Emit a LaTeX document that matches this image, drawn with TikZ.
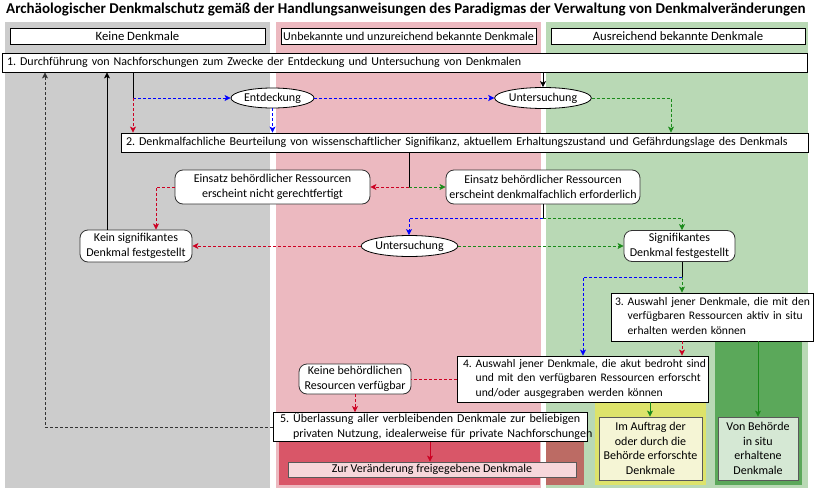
\documentclass[tikz,border=0pt]{standalone}
\usepackage{fontspec}
\setmainfont{Carlito}
\usetikzlibrary{arrows.meta,shapes.geometric,calc}
\definecolor{lgray}{RGB}{204,204,204}
\definecolor{lpink}{RGB}{236,185,192}
\definecolor{lgreen}{RGB}{185,217,181}
\definecolor{dgreen}{RGB}{91,168,90}
\definecolor{yel}{RGB}{221,227,107}
\definecolor{iafill}{RGB}{245,245,213}
\definecolor{vbfill}{RGB}{213,232,212}
\definecolor{dred}{RGB}{217,86,104}
\definecolor{brn}{RGB}{188,107,100}
\definecolor{zvfill}{RGB}{247,215,219}
\definecolor{cblue}{RGB}{0,0,255}
\definecolor{cred}{RGB}{204,0,34}
\definecolor{cgreen}{RGB}{26,138,26}
\newcommand{\fs}{\fontsize{12}{14.5}\selectfont}
\newcommand{\fsn}{\fontsize{11.6}{14.5}\selectfont}
\newcommand{\fsh}{\fontsize{12.7}{14.5}\selectfont}
\frenchspacing
\tikzset{
  hdr/.style={draw=black, fill=white, line width=0.8pt, inner sep=0pt, font=\fs},
  box/.style={draw=black, fill=white, line width=0.8pt, inner ysep=0pt, font=\fs},
  rbox/.style={draw=black!80, fill=white, rounded corners=8pt, line width=0.8pt, align=center, inner sep=0pt, font=\fs},
  ell/.style={ellipse, draw=black, fill=white, line width=0.8pt, inner sep=0pt, font=\fs},
  res/.style={draw=black!65, line width=0.8pt, align=center, inner sep=0pt, font=\fs},
  conn/.style={line width=0.8pt},
  dsh/.style={dash pattern=on 3pt off 2pt},
  arr/.style={-{Stealth[length=6pt,width=6pt,inset=1.5pt]}},
}
\begin{document}
\begin{tikzpicture}[x=1pt,y=-1pt]
\useasboundingbox (0,0) rectangle (814,490);
\fill[white] (0,0) rectangle (814,490);
% lanes
\fill[lgray] (5,22) rectangle (270,488);
\fill[lpink] (276,22) rectangle (541,488);
\fill[lgreen] (546,22) rectangle (808,488);
\fill[dgreen] (715,338) rectangle (802,485);
\fill[yel] (595,400) rectangle (706,485);
\fill[dred] (279,430) rectangle (540,485);
\fill[brn] (546,430) rectangle (584,485);
% title
\node[anchor=west, inner sep=0pt, font=\fontsize{15}{17}\selectfont\bfseries] (title) at (6,10)
  {Archäologischer Denkmalschutz gemäß der Handlungsanweisungen des Paradigmas der Verwaltung von Denkmalveränderungen};
% headers
\node[hdr, font=\fsh, minimum width=255, minimum height=16] (h1) at (137.5,36) {Keine Denkmale};
\node[hdr, minimum width=255, minimum height=16] (h2) at (408.5,36) {Unbekannte und unzureichend bekannte Denkmale};
\node[hdr, font=\fsh, minimum width=254, minimum height=16] (h3) at (678,36) {Ausreichend bekannte Denkmale};
% main boxes
\node[box, inner xsep=5pt, text width=795, align=left, minimum height=19] (b1) at (404.5,62.5)
  {1. Durchführung von Nachforschungen zum Zwecke der Entdeckung und Untersuchung von Denkmalen};
\node[box, inner xsep=5pt, text width=677, align=left, minimum height=19] (b2) at (464.5,142.5)
  {2. Denkmalfachliche Beurteilung von wissenschaftlicher Signifikanz, aktuellem Erhaltungszustand und Gefährdungslage des Denkmals};
\node[ell, minimum width=83, minimum height=20] (e1) at (272.5,98) {Entdeckung};
\node[ell, minimum width=82, minimum height=21] (e2) at (543,98) {Untersuchung};
\node[rbox, minimum width=195, minimum height=34] (r1) at (272.5,187) {Einsatz behördlicher Ressourcen\\erscheint nicht gerechtfertigt};
\node[rbox, minimum width=194, minimum height=34] (r2) at (543,187) {Einsatz behördlicher Ressourcen\\erscheint denkmalfachlich erforderlich};
\node[rbox, minimum width=112, minimum height=32] (k1) at (136,246) {Kein signifikantes\\Denkmal festgestellt};
\node[ell, minimum width=83, minimum height=21] (e3) at (409.5,246) {Untersuchung};
\node[rbox, minimum width=111, minimum height=31] (s1) at (679.5,246) {Signifikantes\\Denkmal festgestellt};
\node[box, font=\fsn, inner xsep=4pt, text width=194, align=left, minimum height=48] (b3) at (712,317)
  {\begin{tabular}{@{}l@{ }l@{}}3.& Auswahl jener Denkmale, die mit den\\ & verfügbaren Ressourcen aktiv in situ\\ & erhalten werden können\end{tabular}};
\node[box, font=\fsn, inner xsep=6pt, text width=239, align=left, minimum height=46] (b4) at (582.5,379)
  {\begin{tabular}{@{}l@{ }l@{}}4.& Auswahl jener Denkmale, die akut bedroht sind\\ & und mit den verfügbaren Ressourcen erforscht\\ & und/oder ausgegraben werden können\end{tabular}};
\node[rbox, minimum width=112, minimum height=30] (kr) at (355,379) {Keine behördlichen\\Resourcen verfügbar};
\node[box, inner xsep=7pt, text width=300, align=left, minimum height=28] (b5) at (430,427)
  {\begin{tabular}{@{}l@{ }l@{}}5.& Überlassung aller verbleibenden Denkmale zur beliebigen\\ & privaten Nutzung, idealerweise für private Nachforschungen\end{tabular}};
\node[res, fill=zvfill, minimum width=288, minimum height=15] (zv) at (432,469.5) {Zur Veränderung freigegebene Denkmale};
\node[res, fill=iafill, minimum width=103, minimum height=63] (ia) at (650.5,448.5) {Im Auftrag der\\oder durch die\\Behörde erforschte\\Denkmale};
\node[res, fill=vbfill, minimum width=80, minimum height=63] (vb) at (758,448.5) {Von Behörde\\in situ\\erhaltene\\Denkmale};
% connectors
\coordinate (c1) at (133,98);
\draw[conn] (b1.south -| c1) -- (c1);
\draw[conn,cblue,dsh,arr] (c1) -- (e1.west);
\draw[conn,cred,dsh,arr] (c1) -- (c1 |- b2.north);
\draw[conn,cblue,dsh,arr] (e1.south) -- (e1.south |- b2.north);
\draw[conn,cblue,dsh,arr] (e1.east) -- (e2.west);
\draw[conn,arr] (b1.south -| e2.north) -- (e2.north);
\coordinate (g1) at (671,98);
\draw[conn,cgreen,dsh,arr] (e2.east) -- (g1) -- (g1 |- b2.north);
\coordinate (c2) at (409,187);
\draw[conn] (b2.south -| c2) -- (c2);
\draw[conn,cred,dsh,arr] (c2) -- (r1.east);
\draw[conn,cgreen,dsh,arr] (c2) -- (r2.west);
\coordinate (c3) at (156,187);
\draw[conn,cred,dsh,arr] (r1.west) -- (c3) -- (c3 |- k1.north);
\coordinate (c6) at (107,246);
\draw[conn,arr] (c6 |- k1.north) -- (c6 |- b1.south);
\coordinate (c4) at (543,218);
\draw[conn] (r2.south) -- (c4);
\coordinate (c4l) at (409,218);
\coordinate (c4r) at (682,218);
\draw[conn,cblue,dsh,arr] (c4) -- (c4l) -- (c4l |- e3.north);
\draw[conn,cgreen,dsh,arr] (c4) -- (c4r) -- (c4r |- s1.north);
\draw[conn,cred,dsh,arr] (e3.west) -- (k1.east);
\draw[conn,cgreen,dsh,arr] (e3.east) -- (s1.west);
\coordinate (c5) at (682,277);
\draw[conn] (c5 |- s1.south) -- (c5);
\draw[conn,cgreen,dsh,arr] (c5) -- (c5 |- b3.north);
\coordinate (c5l) at (583,277);
\draw[conn,cblue,dsh,arr] (c5) -- (c5l) -- (c5l |- b4.north);
\draw[conn,cred,dsh,arr] (c5 |- b3.south) -- (c5 |- b4.north);
\coordinate (c7) at (758,300);
\draw[conn,cgreen,arr] (c7 |- b3.south) -- (c7 |- vb.north);
\coordinate (c8) at (650,300);
\draw[conn,cgreen,arr] (c8 |- b4.south) -- (c8 |- ia.north);
\draw[conn,cred,dsh] (b4.west) -- (kr.east);
\draw[conn,cred,dsh,arr] (kr.south) -- (kr.south |- b5.north);
\draw[conn,cred,arr] (b5.south) -- (b5.south |- zv.north);
\coordinate (c9) at (45,427);
\draw[conn,black!80,dsh,arr] (b5.west) -- (c9) -- (c9 |- b1.south);
\end{tikzpicture}
\end{document}
